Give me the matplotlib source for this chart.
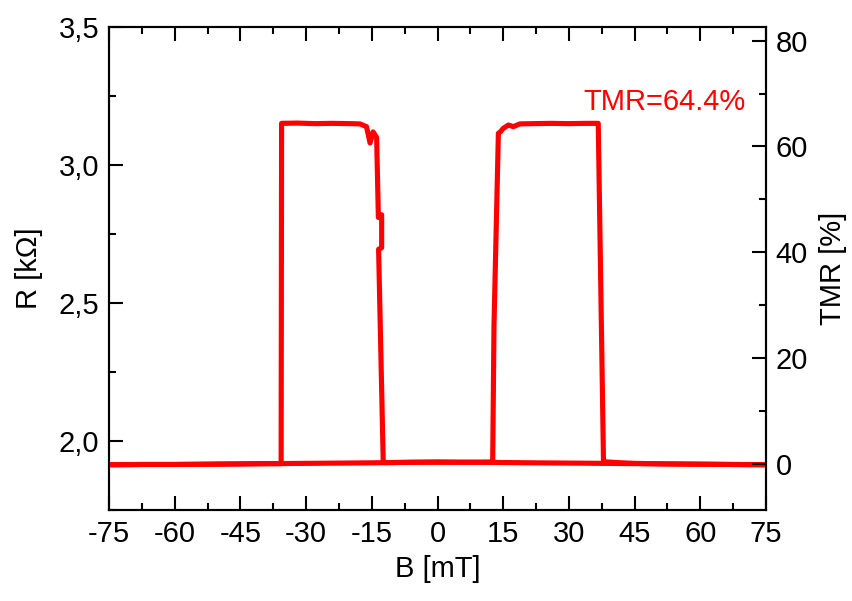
import matplotlib
matplotlib.use("Agg")
import matplotlib.pyplot as plt
from matplotlib.ticker import MultipleLocator, FuncFormatter

plt.rcParams['font.family'] = ['Liberation Sans', 'DejaVu Sans']

# Sweep from +75 mT down to -75 mT
B_down = [75, 67, 60, 52, 45, 38, 30, 22, 15, 10, 5, 0, -5, -10, -12.2,
          -12.4, -13.45, -12.75, -12.75, -13.5, -13.9, -14.7, -15.4, -16.2, -17.7,
          -20, -24, -28, -32, -35.6, -35.7, -40, -45, -52, -60, -67, -75]
R_down = [1.914, 1.915, 1.916, 1.917, 1.918, 1.919, 1.920, 1.921, 1.922, 1.923, 1.923, 1.924, 1.923, 1.922, 1.922,
          1.931, 2.695, 2.700, 2.820, 2.810, 3.100, 3.120, 3.080, 3.139, 3.149,
          3.150, 3.151, 3.150, 3.152, 3.151, 1.918, 1.918, 1.917, 1.916, 1.915, 1.915, 1.914]

# Sweep from -75 mT up to +75 mT
B_up = [-75, -67, -60, -52, -45, -38, -30, -22, -15, -10, -5, 0, 5, 10, 12.4,
        12.6, 12.9, 13.9, 14.4, 15.0, 16.2, 17.3, 18.8, 22, 26, 30, 34, 36.7,
        37.9, 42, 45, 52, 60, 67, 75]
R_up = [1.914, 1.915, 1.915, 1.916, 1.917, 1.918, 1.919, 1.920, 1.921, 1.922, 1.923, 1.923, 1.923, 1.923, 1.924,
        1.925, 2.420, 3.115, 3.121, 3.133, 3.145, 3.139, 3.149, 3.150, 3.151, 3.150, 3.151, 3.151,
        1.925, 1.921, 1.919, 1.917, 1.916, 1.915, 1.914]

R_P = 1.917
TMR_text = "TMR=64.4%"

FS = 21
fig = plt.figure(figsize=(8.53, 6.01), dpi=100)
ax = fig.add_axes([0.1278, 0.1514, 0.898 - 0.1278, 0.955 - 0.1514])

red = '#ff0000'
ax.plot(B_down, R_down, color=red, lw=3.7, solid_joinstyle='round')
ax.plot(B_up, R_up, color=red, lw=3.7, solid_joinstyle='round')

ax.set_xlim(-75, 75)
ax.set_ylim(1.75, 3.5)
ax.xaxis.set_major_locator(MultipleLocator(15))
ax.xaxis.set_minor_locator(MultipleLocator(7.5))
ax.yaxis.set_major_locator(MultipleLocator(0.5))
ax.yaxis.set_minor_locator(MultipleLocator(0.25))
ax.yaxis.set_major_formatter(FuncFormatter(lambda v, p: f"{v:.1f}".replace('.', ',')))
ax.xaxis.set_major_formatter(FuncFormatter(lambda v, p: f"{int(round(v))}"))

ax.tick_params(axis='x', which='both', direction='in', top=True, bottom=True, labelsize=FS, pad=7)
ax.tick_params(axis='y', which='both', direction='in', left=True, right=False, labelsize=FS, pad=7)
ax.tick_params(which='major', length=10, width=1.5)
ax.tick_params(which='minor', length=5, width=1.5)
for s in ax.spines.values():
    s.set_linewidth(1.5)

ax.set_xlabel('B [mT]', fontsize=FS, labelpad=5)
ax.set_ylabel('R [kΩ]', fontsize=FS, labelpad=11)

ax2 = ax.twinx()
lo, hi = ax.get_ylim()
ax2.set_ylim((lo - R_P) / R_P * 100, (hi - R_P) / R_P * 100)
ax2.yaxis.set_major_locator(MultipleLocator(20))
ax2.yaxis.set_minor_locator(MultipleLocator(10))
ax2.tick_params(axis='y', which='both', direction='in', labelsize=FS, pad=7)
ax2.tick_params(which='major', length=10, width=1.5)
ax2.tick_params(which='minor', length=5, width=1.5)
ax2.set_ylabel('TMR [%]', fontsize=FS, labelpad=8)
for s in ax2.spines.values():
    s.set_linewidth(1.5)

ax.text(0.969, 0.845, TMR_text, transform=ax.transAxes, color=red, fontsize=FS,
        ha='right', va='center')

fig.savefig('out.png', dpi=100)
